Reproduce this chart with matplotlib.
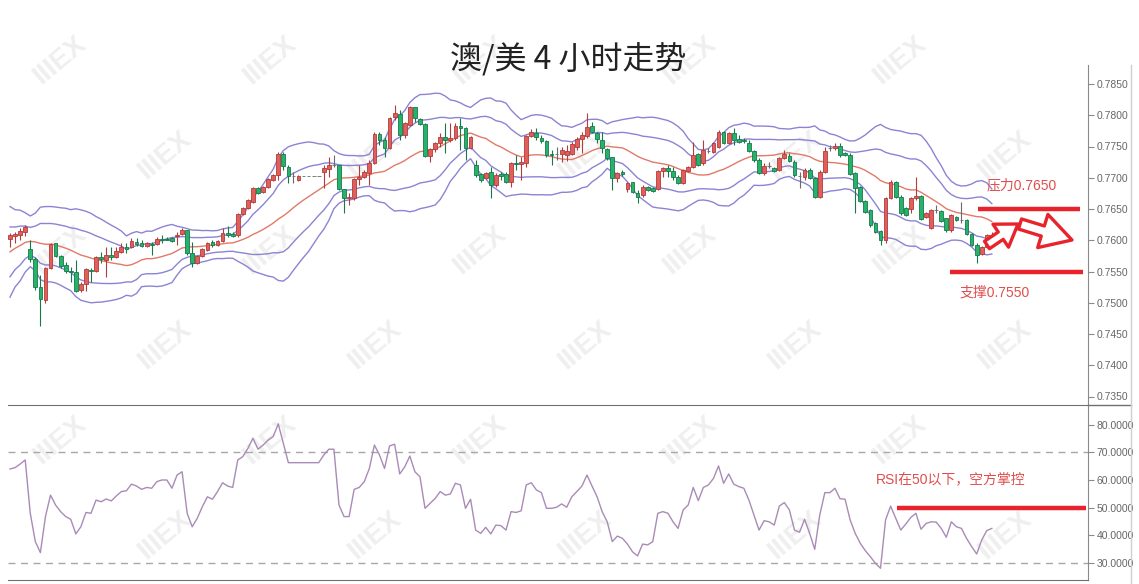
import numpy as np
import pandas as pd
import matplotlib
matplotlib.use('Agg')
import matplotlib.pyplot as plt

plt.rcParams['font.family'] = ['Liberation Sans', 'Noto Sans CJK SC', 'DejaVu Sans']

title = '澳/美 4 小时走势'

# closes before the first visible bar, only used to seed the bollinger bands
prev_close = [0.7496, 0.7528, 0.7520, 0.7536, 0.7544, 0.7552, 0.7584, 0.7592, 0.7600, 0.7608,
              0.7604, 0.7613, 0.7600, 0.7607, 0.7597, 0.7604, 0.7616, 0.7607, 0.7613]

open_ = [
    0.7602, 0.7607, 0.7608, 0.7613, 0.7586, 0.7570, 0.7525, 0.7504, 0.7556, 0.7596,
    0.7575, 0.7560, 0.7551, 0.7549, 0.7520, 0.7530, 0.7552, 0.7551, 0.7573, 0.7568,
    0.7576, 0.7573, 0.7581, 0.7589, 0.7589, 0.7597, 0.7596, 0.7591, 0.7594, 0.7594,
    0.7602, 0.7602, 0.7604, 0.7607, 0.7610, 0.7616, 0.7580, 0.7564, 0.7575, 0.7584,
    0.7597, 0.7592, 0.7599, 0.7612, 0.7610, 0.7608, 0.7642, 0.7652, 0.7661, 0.7684,
    0.7677, 0.7685, 0.7696, 0.7704, 0.7738, 0.7717, 0.7703, 0.7696, 0.7703, 0.7703,
    0.7703, 0.7703, 0.7709, 0.7714, 0.7720, 0.7720, 0.7682, 0.7668, 0.7668, 0.7698,
    0.7701, 0.7708, 0.7724, 0.7770, 0.7760, 0.7748, 0.7797, 0.7802, 0.7768, 0.7784,
    0.7813, 0.7794, 0.7786, 0.7735, 0.7746, 0.7756, 0.7765, 0.7760, 0.7764, 0.7783,
    0.7779, 0.7748, 0.7720, 0.7706, 0.7700, 0.7709, 0.7688, 0.7706, 0.7706, 0.7693,
    0.7724, 0.7722, 0.7724, 0.7767, 0.7771, 0.7764, 0.7759, 0.7738, 0.7738, 0.7738,
    0.7736, 0.7738, 0.7749, 0.7762, 0.7767, 0.7783, 0.7771, 0.7760, 0.7746, 0.7733,
    0.7700, 0.7709, 0.7682, 0.7693, 0.7676, 0.7672, 0.7685, 0.7684, 0.7682, 0.7711,
    0.7716, 0.7711, 0.7701, 0.7692, 0.7711, 0.7717, 0.7738, 0.7724, 0.7743, 0.7741,
    0.7749, 0.7773, 0.7756, 0.7771, 0.7762, 0.7760, 0.7756, 0.7743, 0.7728, 0.7708,
    0.7719, 0.7716, 0.7712, 0.7732, 0.7735, 0.7725, 0.7703, 0.7701, 0.7712, 0.7700,
    0.7669, 0.7709, 0.7748, 0.7748, 0.7751, 0.7740, 0.7736, 0.7708, 0.7685, 0.7663,
    0.7648, 0.7628, 0.7615, 0.7600, 0.7668, 0.7693, 0.7669, 0.7652, 0.7650, 0.7668,
    0.7671, 0.7637, 0.7620, 0.7648, 0.7647, 0.7635, 0.7616, 0.7637, 0.7632, 0.7632,
    0.7610, 0.7592, 0.7578, 0.7589, 0.7605]

high = [
    0.7612, 0.7613, 0.7620, 0.7624, 0.7600, 0.7573, 0.7544, 0.7557, 0.7596, 0.7596,
    0.7576, 0.7565, 0.7557, 0.7568, 0.7533, 0.7556, 0.7556, 0.7575, 0.7581, 0.7589,
    0.7589, 0.7589, 0.7596, 0.7596, 0.7604, 0.7604, 0.7600, 0.7597, 0.7597, 0.7605,
    0.7608, 0.7605, 0.7605, 0.7613, 0.7620, 0.7616, 0.7597, 0.7576, 0.7588, 0.7597,
    0.7600, 0.7600, 0.7620, 0.7623, 0.7613, 0.7644, 0.7653, 0.7666, 0.7685, 0.7685,
    0.7687, 0.7700, 0.7706, 0.7741, 0.7741, 0.7720, 0.7709, 0.7704, 0.7703, 0.7703,
    0.7703, 0.7703, 0.7720, 0.7733, 0.7736, 0.7720, 0.7682, 0.7676, 0.7700, 0.7720,
    0.7712, 0.7728, 0.7773, 0.7773, 0.7765, 0.7797, 0.7816, 0.7808, 0.7789, 0.7815,
    0.7813, 0.7796, 0.7788, 0.7748, 0.7757, 0.7771, 0.7788, 0.7788, 0.7788, 0.7796,
    0.7781, 0.7767, 0.7728, 0.7708, 0.7709, 0.7717, 0.7708, 0.7709, 0.7709, 0.7725,
    0.7736, 0.7733, 0.7768, 0.7778, 0.7779, 0.7768, 0.7760, 0.7744, 0.7749, 0.7749,
    0.7752, 0.7757, 0.7765, 0.7773, 0.7804, 0.7789, 0.7773, 0.7773, 0.7748, 0.7733,
    0.7709, 0.7712, 0.7693, 0.7693, 0.7680, 0.7688, 0.7687, 0.7685, 0.7712, 0.7717,
    0.7720, 0.7717, 0.7704, 0.7714, 0.7719, 0.7757, 0.7740, 0.7760, 0.7748, 0.7757,
    0.7776, 0.7775, 0.7773, 0.7779, 0.7768, 0.7763, 0.7760, 0.7744, 0.7732, 0.7724,
    0.7725, 0.7717, 0.7733, 0.7744, 0.7740, 0.7728, 0.7709, 0.7716, 0.7716, 0.7701,
    0.7712, 0.7749, 0.7752, 0.7756, 0.7756, 0.7741, 0.7740, 0.7709, 0.7687, 0.7664,
    0.7650, 0.7629, 0.7616, 0.7669, 0.7696, 0.7695, 0.7672, 0.7653, 0.7669, 0.7701,
    0.7672, 0.7645, 0.7650, 0.7656, 0.7648, 0.7636, 0.7642, 0.7639, 0.7661, 0.7634,
    0.7612, 0.7596, 0.7591, 0.7610, 0.7613]

low = [
    0.7589, 0.7596, 0.7600, 0.7607, 0.7565, 0.7520, 0.7463, 0.7499, 0.7554, 0.7573,
    0.7556, 0.7548, 0.7533, 0.7517, 0.7517, 0.7519, 0.7533, 0.7549, 0.7564, 0.7541,
    0.7568, 0.7572, 0.7580, 0.7580, 0.7588, 0.7591, 0.7589, 0.7589, 0.7576, 0.7592,
    0.7596, 0.7600, 0.7597, 0.7592, 0.7608, 0.7576, 0.7557, 0.7562, 0.7573, 0.7583,
    0.7589, 0.7591, 0.7597, 0.7605, 0.7605, 0.7605, 0.7640, 0.7650, 0.7660, 0.7674,
    0.7676, 0.7684, 0.7695, 0.7696, 0.7712, 0.7692, 0.7692, 0.7695, 0.7703, 0.7703,
    0.7703, 0.7703, 0.7684, 0.7701, 0.7717, 0.7680, 0.7644, 0.7656, 0.7664, 0.7688,
    0.7700, 0.7688, 0.7722, 0.7752, 0.7733, 0.7746, 0.7792, 0.7760, 0.7764, 0.7783,
    0.7789, 0.7784, 0.7733, 0.7725, 0.7741, 0.7749, 0.7740, 0.7757, 0.7760, 0.7744,
    0.7728, 0.7746, 0.7701, 0.7693, 0.7698, 0.7668, 0.7685, 0.7696, 0.7692, 0.7685,
    0.7712, 0.7696, 0.7717, 0.7765, 0.7760, 0.7756, 0.7733, 0.7720, 0.7728, 0.7725,
    0.7727, 0.7736, 0.7744, 0.7740, 0.7764, 0.7771, 0.7756, 0.7740, 0.7728, 0.7680,
    0.7693, 0.7703, 0.7677, 0.7676, 0.7660, 0.7669, 0.7679, 0.7677, 0.7680, 0.7701,
    0.7701, 0.7696, 0.7690, 0.7690, 0.7709, 0.7716, 0.7719, 0.7720, 0.7740, 0.7740,
    0.7748, 0.7754, 0.7754, 0.7752, 0.7756, 0.7756, 0.7741, 0.7725, 0.7706, 0.7704,
    0.7716, 0.7709, 0.7711, 0.7730, 0.7725, 0.7701, 0.7684, 0.7696, 0.7698, 0.7668,
    0.7668, 0.7708, 0.7743, 0.7744, 0.7733, 0.7735, 0.7704, 0.7644, 0.7661, 0.7644,
    0.7622, 0.7612, 0.7592, 0.7596, 0.7666, 0.7668, 0.7640, 0.7639, 0.7644, 0.7664,
    0.7632, 0.7636, 0.7618, 0.7644, 0.7629, 0.7613, 0.7613, 0.7631, 0.7628, 0.7608,
    0.7591, 0.7563, 0.7576, 0.7588, 0.7604]

close = [
    0.7608, 0.7610, 0.7615, 0.7621, 0.7570, 0.7525, 0.7506, 0.7556, 0.7594, 0.7575,
    0.7559, 0.7551, 0.7549, 0.7519, 0.7530, 0.7554, 0.7551, 0.7573, 0.7570, 0.7576,
    0.7573, 0.7583, 0.7589, 0.7586, 0.7599, 0.7594, 0.7591, 0.7596, 0.7592, 0.7602,
    0.7600, 0.7600, 0.7599, 0.7608, 0.7616, 0.7580, 0.7564, 0.7575, 0.7586, 0.7596,
    0.7592, 0.7599, 0.7612, 0.7608, 0.7607, 0.7642, 0.7652, 0.7664, 0.7684, 0.7676,
    0.7685, 0.7698, 0.7704, 0.7738, 0.7719, 0.7703, 0.7703, 0.7703, 0.7703, 0.7703,
    0.7703, 0.7703, 0.7716, 0.7720, 0.7720, 0.7682, 0.7668, 0.7669, 0.7698, 0.7701,
    0.7709, 0.7724, 0.7770, 0.7760, 0.7748, 0.7796, 0.7804, 0.7768, 0.7788, 0.7813,
    0.7796, 0.7786, 0.7735, 0.7746, 0.7756, 0.7765, 0.7760, 0.7764, 0.7783, 0.7779,
    0.7748, 0.7765, 0.7704, 0.7696, 0.7708, 0.7688, 0.7704, 0.7703, 0.7693, 0.7724,
    0.7722, 0.7725, 0.7767, 0.7773, 0.7765, 0.7759, 0.7736, 0.7736, 0.7738, 0.7744,
    0.7742, 0.7754, 0.7762, 0.7768, 0.7781, 0.7773, 0.7762, 0.7748, 0.7732, 0.7700,
    0.7708, 0.7706, 0.7692, 0.7677, 0.7669, 0.7685, 0.7680, 0.7679, 0.7711, 0.7716,
    0.7711, 0.7701, 0.7692, 0.7712, 0.7717, 0.7736, 0.7720, 0.7744, 0.7743, 0.7756,
    0.7773, 0.7756, 0.7771, 0.7760, 0.7757, 0.7759, 0.7743, 0.7728, 0.7708, 0.7719,
    0.7719, 0.7711, 0.7732, 0.7738, 0.7727, 0.7704, 0.7703, 0.7712, 0.7700, 0.7669,
    0.7709, 0.7743, 0.7748, 0.7751, 0.7736, 0.7736, 0.7706, 0.7684, 0.7663, 0.7645,
    0.7624, 0.7613, 0.7600, 0.7668, 0.7693, 0.7669, 0.7644, 0.7640, 0.7668, 0.7671,
    0.7634, 0.7644, 0.7648, 0.7648, 0.7631, 0.7616, 0.7640, 0.7632, 0.7632, 0.7610,
    0.7592, 0.7576, 0.7589, 0.7608, 0.7608]

rsi = [
    64.0, 64.5, 65.8, 67.3, 47.9, 37.6, 33.6, 46.7, 54.5, 50.9,
    48.5, 46.7, 45.7, 40.4, 43.0, 48.2, 47.9, 52.7, 52.1, 53.1,
    52.4, 54.2, 55.8, 56.1, 58.5, 57.8, 56.6, 57.3, 57.0, 59.4,
    60.0, 60.0, 57.0, 61.8, 63.0, 47.9, 43.0, 46.1, 50.3, 53.9,
    53.0, 55.8, 59.0, 57.8, 57.3, 67.3, 68.5, 71.5, 75.2, 71.2,
    72.7, 74.5, 75.8, 80.4, 73.3, 66.3, 66.3, 66.3, 66.3, 66.3,
    66.3, 66.3, 69.1, 71.2, 71.2, 50.9, 46.7, 46.7, 56.6, 57.3,
    59.4, 64.2, 72.7, 69.1, 64.2, 72.4, 73.0, 62.2, 64.8, 68.7,
    63.0, 61.2, 49.7, 51.5, 53.3, 55.8, 54.5, 54.9, 58.8, 58.2,
    49.7, 53.0, 41.8, 40.6, 42.8, 40.4, 43.6, 43.4, 41.8, 48.5,
    48.2, 48.8, 58.2, 59.0, 56.4, 55.4, 49.7, 49.7, 50.1, 51.3,
    50.1, 53.9, 55.8, 57.8, 61.8, 57.8, 53.9, 48.5, 44.8, 37.6,
    39.6, 38.8, 36.7, 33.9, 32.4, 36.7, 36.4, 37.6, 47.9, 48.5,
    47.9, 44.8, 42.4, 49.1, 50.9, 57.3, 52.5, 57.3, 58.2, 60.6,
    65.1, 58.8, 62.2, 58.5, 57.6, 57.0, 52.7, 47.3, 41.8, 45.2,
    44.8, 43.6, 50.5, 51.8, 49.1, 41.8, 41.0, 45.7, 40.6, 34.8,
    47.3, 55.4, 55.4, 57.0, 53.2, 53.0, 45.5, 40.6, 37.0, 34.3,
    32.1, 29.7, 27.9, 45.5, 50.5, 46.1, 41.8, 44.0, 46.4, 47.9,
    42.1, 44.2, 44.8, 44.7, 42.4, 39.2, 44.8, 43.0, 42.4, 38.8,
    35.8, 33.1, 38.2, 41.6, 42.4]

resist_level = 0.7650
support_level = 0.7550
rsi_level = 50
price_ticks = [0.7350, 0.7400, 0.7450, 0.7500, 0.7550, 0.7600, 0.7650, 0.7700, 0.7750, 0.7800, 0.7850]
rsi_ticks = [30, 40, 50, 60, 70, 80]

RED = '#e05f5b'
RED_EDGE = '#b23b3b'
GREEN = '#25b26a'
GREEN_EDGE = '#17794a'
BAND = '#8b84d4'
MID = '#e17a68'
NOTE = '#e04e4e'
MARK = '#e8232b'

fig = plt.figure(figsize=(11.39, 5.84), dpi=100)
W, H = 1139, 584

# faint watermark tiles, kept inside the canvas
for r, yy in enumerate(range(60, 560, 95)):
    shift = 105 if r % 2 else 0
    for xx in range(60 + shift, 1090, 210):
        fig.text(xx / W, 1 - yy / H, 'IIIEX', rotation=40, fontsize=20, fontweight='bold',
                 color='#efefef', ha='center', va='center', zorder=-5)

ax1 = fig.add_axes([8 / W, 1 - 405 / H, 1080 / W, 340 / H])
ax2 = fig.add_axes([8 / W, 1 - 580 / H, 1080 / W, 175 / H])
for ax in (ax1, ax2):
    ax.set_facecolor('none')

o = np.array(open_)
h = np.array(high)
l = np.array(low)
c = np.array(close)
x = np.arange(len(c))

fill = np.where(c > o, RED, np.where(c < o, GREEN, '#7a7a7a'))
edge = np.where(c > o, RED_EDGE, np.where(c < o, GREEN_EDGE, '#6a6a6a'))

# bollinger bands (20, 2) plus inner pair
allc = pd.Series(prev_close + close)
n0 = len(prev_close)
mid = allc.rolling(20).mean().to_numpy()[n0:]
sd = allc.rolling(20).std(ddof=0).to_numpy()[n0:]
for k in (2.0, 1.1):
    ax1.plot(x, mid + k * sd, color=BAND, lw=1.0, zorder=1)
    ax1.plot(x, mid - k * sd, color=BAND, lw=1.0, zorder=1)
ax1.plot(x, mid, color=MID, lw=1.0, zorder=1)

ax1.vlines(x, l, h, colors=edge, lw=0.8, zorder=2)
ax1.bar(x, np.maximum(np.abs(c - o), 0.00002), bottom=np.minimum(o, c), width=0.74,
        color=fill, edgecolor=edge, linewidth=0.6, zorder=3)

# resistance / support marks
ax1.hlines(resist_level, 191.3, 211.5, color=MARK, lw=3.2, zorder=4)
ax1.hlines(support_level, 185.8, 212.1, color=MARK, lw=3.2, zorder=4)
ax1.text(192.9, 0.7688, '压力0.7650', color=NOTE, fontsize=10, va='center', ha='left')
ax1.text(187.7, 0.7516, '支撑0.7550', color=NOTE, fontsize=10, va='center', ha='left')

ax1.set_xlim(-0.4, 213.0)
ax1.set_ylim(0.73364, 0.78804)
ax1.yaxis.tick_right()
ax1.set_yticks(price_ticks)
ax1.set_yticklabels([f'{v:.4f}' for v in price_ticks])
ax1.set_xticks([])
for s in ('top', 'left', 'bottom'):
    ax1.spines[s].set_visible(False)
ax1.spines['right'].set_color('#8a8a8a')

# RSI panel
ax2.axhline(70, color='#a8a8a8', lw=1, ls=(0, (5, 4)))
ax2.axhline(30, color='#a8a8a8', lw=1, ls=(0, (5, 4)))
ax2.plot(x, rsi, color='#a98bb6', lw=1.0)
ax2.hlines(rsi_level, 175.3, 212.6, color=MARK, lw=3.2, zorder=4)
ax2.text(171.0, 60.4, 'RSI在50以下，空方掌控', color=NOTE, fontsize=10, va='center', ha='left')
ax2.set_xlim(-0.4, 213.0)
ax2.set_ylim(23.64, 87.27)
ax2.yaxis.tick_right()
ax2.set_yticks(rsi_ticks)
ax2.set_yticklabels([f'{v:.4f}' for v in rsi_ticks])
ax2.set_xticks([])
ax2.spines['left'].set_visible(False)
ax2.spines['top'].set_color('#707070')
ax2.spines['bottom'].set_color('#707070')
ax2.spines['right'].set_color('#8a8a8a')

for ax in (ax1, ax2):
    ax.tick_params(axis='y', labelsize=7.5, colors='#8a8a8a', labelcolor='#666666',
                   length=4, pad=2, width=0.8)

# frame lines to the right of the axis
fig.add_artist(plt.Line2D([1088 / W, 1131 / W], [1 - 405 / H, 1 - 405 / H],
                          transform=fig.transFigure, color='#707070', lw=1))
fig.add_artist(plt.Line2D([1131 / W, 1131 / W], [1 - 65 / H, 0],
                          transform=fig.transFigure, color='#cfcfcf', lw=1))

# hollow arrows
ax1.annotate('', xy=(1018, 360), xytext=(987, 339), xycoords='figure pixels',
             textcoords='figure pixels',
             arrowprops=dict(arrowstyle='simple,head_length=0.75,head_width=1.0,tail_width=0.32',
                             mutation_scale=20, fc='white', ec=MARK, lw=2.4,
                             shrinkA=0, shrinkB=0), zorder=6)
ax1.annotate('', xy=(1072, 344), xytext=(1020, 360), xycoords='figure pixels',
             textcoords='figure pixels',
             arrowprops=dict(arrowstyle='simple,head_length=1.1,head_width=1.25,tail_width=0.38',
                             mutation_scale=20, fc='white', ec=MARK, lw=2.4,
                             shrinkA=0, shrinkB=0), zorder=6)

fig.text(0.4985, 1 - 60 / H, title, fontsize=23, ha='center', va='center',
         family=['Noto Sans CJK SC', 'DejaVu Sans'], color='#222222')

fig.savefig('out.png', dpi=100)
